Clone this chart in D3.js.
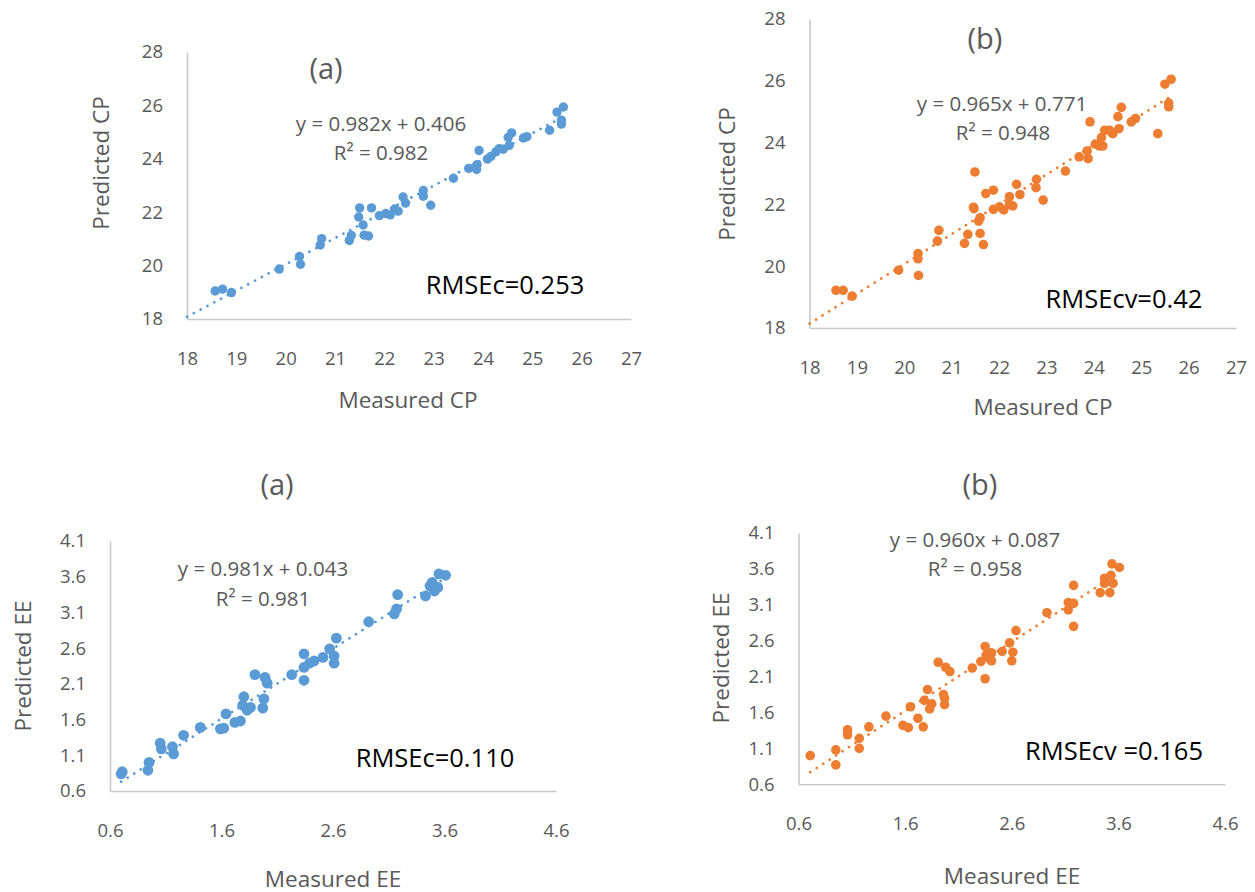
<!DOCTYPE html>
<html>
<head>
<meta charset="utf-8">
<script src="https://cdn.jsdelivr.net/npm/d3@7"></script>
<style>
  body { margin: 0; background: #fff; }
  svg text { font-family: "Open Sans", "Noto Sans", sans-serif; }
</style>
</head>
<body>
<div class="chart"></div>
<script>

// tick values
const cpTicksX = [18, 19, 20, 21, 22, 23, 24, 25, 26, 27];
const cpTicksY = [18, 20, 22, 24, 26, 28];
const eeTicksX = [0.6, 1.6, 2.6, 3.6, 4.6];
const eeTicksY = [0.6, 1.1, 1.6, 2.1, 2.6, 3.1, 3.6, 4.1];

// CP calibration (a)
const cpMeasCal = [18.57, 18.72, 18.90, 19.87, 20.28, 20.30, 20.73, 20.70, 21.29, 21.33,
  21.50, 21.48, 21.57, 21.59, 21.68, 21.74, 21.90, 22.03, 22.12, 22.21, 22.28, 22.38, 22.43,
  22.79, 22.79, 22.94, 23.40, 23.71, 23.87, 23.92, 23.88, 24.09, 24.16, 24.26, 24.33, 24.41,
  24.53, 24.51, 24.58, 24.82, 24.89, 25.35, 25.50, 25.63, 25.59, 25.59];
const cpPredCal = [19.05, 19.12, 18.99, 19.87, 20.34, 20.05, 21.01, 20.77, 20.94, 21.13,
  22.16, 21.82, 21.52, 21.14, 21.11, 22.16, 21.87, 21.95, 21.90, 22.12, 22.04, 22.57, 22.34,
  22.81, 22.60, 22.26, 23.27, 23.64, 23.60, 24.31, 23.78, 23.99, 24.09, 24.26, 24.38, 24.36,
  24.50, 24.80, 24.97, 24.78, 24.83, 25.07, 25.75, 25.94, 25.45, 25.30];

// CP cross-validation (b)
const cpMeasCv = [18.56, 18.71, 18.90, 19.88, 20.29, 20.29, 20.30, 20.70, 20.73, 21.27,
  21.34, 21.49, 21.46, 21.47, 21.57, 21.60, 21.60, 21.67, 21.72, 21.88, 21.88, 22.01, 22.10,
  22.22, 22.22, 22.29, 22.37, 22.44, 22.79, 22.78, 22.93, 23.40, 23.69, 23.88, 23.86, 23.92,
  24.03, 24.12, 24.19, 24.16, 24.23, 24.33, 24.40, 24.53, 24.51, 24.58, 24.79, 24.88, 25.35,
  25.50, 25.63, 25.58, 25.58];
const cpPredCv = [19.22, 19.22, 19.03, 19.87, 20.41, 20.24, 19.70, 20.81, 21.16, 20.74,
  21.03, 23.05, 21.91, 21.86, 21.46, 21.57, 21.06, 20.70, 22.35, 22.46, 21.84, 21.92, 21.82,
  22.00, 22.25, 21.95, 22.65, 22.32, 22.81, 22.54, 22.14, 23.08, 23.54, 23.48, 23.73, 24.67,
  23.95, 23.89, 23.89, 24.16, 24.40, 24.40, 24.29, 24.45, 24.84, 25.14, 24.67, 24.78, 24.29,
  25.89, 26.05, 25.28, 25.16];

// EE calibration (a)
const eeMeasCal = [0.70, 0.71, 0.94, 0.95, 1.05, 1.06, 1.16, 1.17, 1.26, 1.41, 1.59, 1.62,
  1.64, 1.72, 1.77, 1.80, 1.79, 1.83, 1.86, 1.90, 1.98, 1.97, 1.99, 2.01, 2.23, 2.34, 2.34,
  2.34, 2.39, 2.43, 2.51, 2.57, 2.61, 2.61, 2.63, 2.92, 3.15, 3.17, 3.18, 3.43, 3.47, 3.49,
  3.51, 3.54, 3.55, 3.61];
const eePredCal = [0.84, 0.87, 0.89, 1.00, 1.27, 1.19, 1.22, 1.12, 1.38, 1.49, 1.47, 1.48,
  1.68, 1.56, 1.58, 1.92, 1.80, 1.73, 1.77, 2.23, 1.89, 1.76, 2.19, 2.11, 2.23, 2.52, 2.15,
  2.33, 2.39, 2.42, 2.47, 2.59, 2.49, 2.39, 2.74, 2.97, 3.08, 3.15, 3.35, 3.33, 3.47, 3.52,
  3.40, 3.45, 3.64, 3.62];

// EE cross-validation (b)
const eeMeasCv = [0.71, 0.95, 0.95, 1.06, 1.06, 1.17, 1.17, 1.26, 1.42, 1.58, 1.63, 1.65,
  1.72, 1.77, 1.78, 1.81, 1.83, 1.85, 1.91, 1.96, 1.97, 1.97, 1.98, 2.02, 2.23, 2.31, 2.35,
  2.35, 2.36, 2.39, 2.41, 2.41, 2.51, 2.58, 2.60, 2.61, 2.64, 2.93, 3.13, 3.13, 3.18, 3.18,
  3.18, 3.43, 3.47, 3.47, 3.53, 3.52, 3.55, 3.54, 3.61];
const eePredCv = [1.00, 1.08, 0.87, 1.36, 1.29, 1.24, 1.10, 1.40, 1.55, 1.42, 1.39, 1.68,
  1.52, 1.40, 1.77, 1.92, 1.65, 1.72, 2.30, 1.85, 1.71, 1.80, 2.23, 2.17, 2.22, 2.31, 2.52,
  2.07, 2.40, 2.35, 2.43, 2.32, 2.45, 2.57, 2.32, 2.44, 2.74, 2.99, 3.13, 3.03, 3.12, 3.37,
  2.80, 3.27, 3.47, 3.40, 3.51, 3.27, 3.40, 3.67, 3.62];

const panelTitles = ["(a)", "(b)", "(a)", "(b)"];
const slopes = [0.982, 0.965, 0.981, 0.960];
const intercepts = [0.406, 0.771, 0.043, 0.087];
const eqLabels = ["y = 0.982x + 0.406", "y = 0.965x + 0.771", "y = 0.981x + 0.043", "y = 0.960x + 0.087"];
const r2Labels = ["R\u00b2 = 0.982", "R\u00b2 = 0.948", "R\u00b2 = 0.981", "R\u00b2 = 0.958"];
const rmseLabels = ["RMSEc=0.253", "RMSEcv=0.42", "RMSEc=0.110", "RMSEcv =0.165"];
const xTitles = ["Measured CP", "Measured CP", "Measured EE", "Measured EE"];
const yTitles = ["Predicted CP", "Predicted CP", "Predicted EE", "Predicted EE"];

const blue = "#5b9bd5";
const orange = "#ed7d31";
const grey = "#595959";

const width = 1255;
const height = 892;

const svg = d3.select(".chart")
  .append("svg")
    .attr("width", width)
    .attr("height", height);

svg.append("rect")
  .attr("width", width)
  .attr("height", height)
  .attr("fill", "#fff");

const panels = [
  { xs: cpMeasCal, ys: cpPredCal, color: blue, r: 4.7, xd: [18, 27], yd: [18, 28], xt: cpTicksX, yt: cpTicksY, fmt: d3.format("d"),
    xr: [187, 631], yr: [319, 52], trendFrom: 18,
    title: [326, 67], eq: [381, 123], r2: [381, 152], rmse: [505, 284], xTitle: [408, 399], yTitle: [100, 163] },
  { xs: cpMeasCv, ys: cpPredCv, color: orange, r: 4.8, xd: [18, 27], yd: [18, 28], xt: cpTicksX, yt: cpTicksY, fmt: d3.format("d"),
    xr: [809.5, 1236], yr: [328, 19], trendFrom: 18,
    title: [985, 37], eq: [1002, 103], r2: [1003, 132], rmse: [1124, 298], xTitle: [1043, 406], yTitle: [726, 174] },
  { xs: eeMeasCal, ys: eePredCal, color: blue, r: 5.4, xd: [0.6, 4.6], yd: [0.6, 4.1], xt: eeTicksX, yt: eeTicksY, fmt: d3.format(".1f"),
    xr: [110, 556], yr: [791, 541], trendFrom: null,
    title: [277, 483], eq: [263, 568], r2: [263, 598], rmse: [435, 757], xTitle: [333, 878], yTitle: [22, 666] },
  { xs: eeMeasCv, ys: eePredCv, color: orange, r: 4.8, xd: [0.6, 4.6], yd: [0.6, 4.1], xt: eeTicksX, yt: eeTicksY, fmt: d3.format(".1f"),
    xr: [798.5, 1225], yr: [784.3, 533], trendFrom: null,
    title: [980, 483], eq: [975, 539], r2: [975, 568], rmse: [1114, 750], xTitle: [1012, 875], yTitle: [720, 658] }
];

panels.forEach((p, i) => {
  const x = d3.scaleLinear().domain(p.xd).range(p.xr);
  const y = d3.scaleLinear().domain(p.yd).range(p.yr);
  const g = svg.append("g").attr("class", "panel");

  // axes
  const xAxis = g.append("g")
    .attr("transform", `translate(0, ${p.yr[0]})`)
    .call(d3.axisBottom(x).tickValues(p.xt).tickFormat(p.fmt).tickSize(0).tickPadding(33));
  const yAxis = g.append("g")
    .attr("transform", `translate(${p.xr[0]}, 0)`)
    .call(d3.axisLeft(y).tickValues(p.yt).tickFormat(p.fmt).tickSize(0).tickPadding(24));

  [xAxis, yAxis].forEach((a) => {
    a.select(".domain").attr("stroke", "#c9c9c9").attr("stroke-width", 1.6);
    a.selectAll("text")
      .attr("fill", grey)
      .style("font-size", "18.5px");
  });

  // points
  const pts = p.xs.map((v, k) => [v, p.ys[k]]);
  g.append("g")
    .selectAll("circle")
      .data(pts).enter()
    .append("circle")
      .attr("cx", (d) => x(d[0]))
      .attr("cy", (d) => y(d[1]))
      .attr("r", p.r)
      .attr("fill", p.color);

  // dotted trend line
  const x0 = p.trendFrom != null ? p.trendFrom : d3.min(p.xs);
  const x1 = d3.max(p.xs);
  const fit = (v) => slopes[i] * v + intercepts[i];
  g.append("path")
    .attr("d", d3.line()([[x(x0), y(fit(x0))], [x(x1), y(fit(x1))]]))
    .attr("stroke", p.color)
    .attr("stroke-width", 2.7)
    .attr("stroke-linecap", "round")
    .attr("stroke-dasharray", "0.1 7.6")
    .attr("fill", "none");

  // texts
  g.append("text")
    .attr("x", p.title[0]).attr("y", p.title[1])
    .attr("text-anchor", "middle").attr("dominant-baseline", "central")
    .attr("fill", grey).style("font-size", "29px")
    .text(panelTitles[i]);

  g.append("text")
    .attr("x", p.eq[0]).attr("y", p.eq[1])
    .attr("text-anchor", "middle").attr("dominant-baseline", "central")
    .attr("fill", grey).style("font-size", "20.5px")
    .text(eqLabels[i]);

  g.append("text")
    .attr("x", p.r2[0]).attr("y", p.r2[1])
    .attr("text-anchor", "middle").attr("dominant-baseline", "central")
    .attr("fill", grey).style("font-size", "20.5px")
    .text(r2Labels[i]);

  g.append("text")
    .attr("x", p.rmse[0]).attr("y", p.rmse[1])
    .attr("text-anchor", "middle").attr("dominant-baseline", "central")
    .attr("fill", "#000").style("font-size", "25.5px")
    .text(rmseLabels[i]);

  g.append("text")
    .attr("x", p.xTitle[0]).attr("y", p.xTitle[1])
    .attr("text-anchor", "middle").attr("dominant-baseline", "central")
    .attr("fill", grey).style("font-size", "22.5px")
    .text(xTitles[i]);

  g.append("text")
    .attr("transform", `translate(${p.yTitle[0]}, ${p.yTitle[1]}) rotate(-90)`)
    .attr("text-anchor", "middle").attr("dominant-baseline", "central")
    .attr("fill", grey).style("font-size", "22.5px")
    .text(yTitles[i]);
});
</script>
</body>
</html>
